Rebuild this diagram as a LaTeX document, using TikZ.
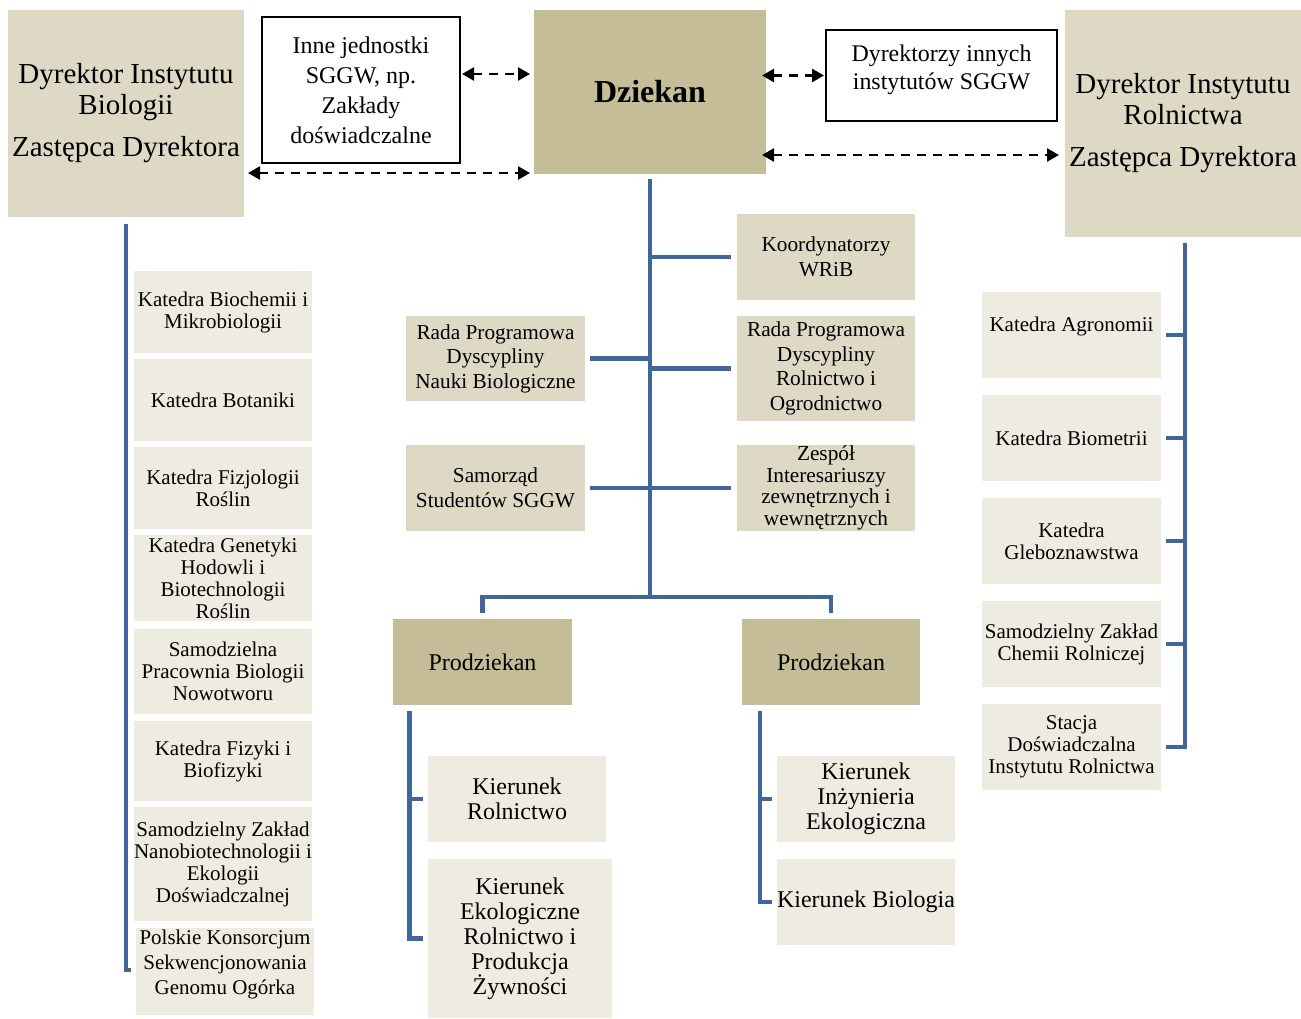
\documentclass[tikz,border=0pt]{standalone}
\usepackage{fontspec}
\setmainfont{Liberation Serif}
\usetikzlibrary{arrows.meta}

\begin{document}
\begin{tikzpicture}[x=1pt,y=-1pt,
  box/.style={inner sep=0pt, outer sep=0pt, align=center, text=black},
  dyrbox/.style={box, fill=tanLight, font=\fontsize{29}{31}\selectfont},
  whitebox/.style={box, draw=black, line width=2pt, fill=white, font=\fontsize{24}{30}\selectfont},
  deanbox/.style={box, fill=tanDark},
  midbox/.style={box, fill=tanLight, minimum width=178, minimum height=86, font=\fontsize{21.3}{24.5}\selectfont},
  unitbox/.style={box, fill=tanPale, minimum width=178, font=\fontsize{21}{22}\selectfont},
  kierbox/.style={box, fill=tanPale, minimum width=178, minimum height=86, font=\fontsize{24}{25}\selectfont},
  tree/.style={draw=lineBlue, line width=4.8pt},
  darr/.style={draw=black, line width=2.5pt, dash pattern=on 9pt off 7pt,
    {Triangle[length=12pt,width=13pt]}-{Triangle[length=12pt,width=13pt]}}
]
\definecolor{tanDark}{RGB}{196,189,151}
\definecolor{tanLight}{RGB}{221,217,196}
\definecolor{tanPale}{RGB}{238,236,225}
\definecolor{lineBlue}{RGB}{64,102,155}

\path[use as bounding box,fill=white] (0,0) rectangle (1301,1019);

% top row
\node[dyrbox, minimum width=236, minimum height=207] (bio) at (126,113.5)
  {Dyrektor Instytutu\\Biologii\\[11pt]Zastępca Dyrektora};
\node[whitebox, minimum width=198, minimum height=146] (inne) at (361,90)
  {Inne jednostki\\SGGW, np.\\Zakłady\\doświadczalne};
\node[deanbox, minimum width=232, minimum height=164, font=\fontsize{32}{34}\selectfont\bfseries] (dziekan) at (650,92) {Dziekan};
\node[whitebox, minimum width=231, minimum height=91, font=\fontsize{23.9}{28}\selectfont] (dyrinne) at (941.5,75.5)
  {Dyrektorzy innych\\instytutów SGGW\\[-20pt]\strut};
\node[dyrbox, minimum width=236, minimum height=227] (rol) at (1183,123.5)
  {Dyrektor Instytutu\\Rolnictwa\\[11pt]Zastępca Dyrektora};

\draw[darr] ([xshift=2pt,yshift=16pt]inne.east) -- ([xshift=-4pt,yshift=16pt]inne.east -| dziekan.west);
\draw[darr] ([xshift=4pt,yshift=1pt]bio.east |- dziekan.south) -- ([xshift=-4pt,yshift=1pt]dziekan.south west);
\draw[darr] ([xshift=-4pt]dyrinne.west -| dziekan.east) -- ([xshift=-2pt]dyrinne.west);
\draw[darr] ([xshift=-4pt,yshift=-63pt]dziekan.east) -- ([xshift=-6pt,yshift=-63pt]dziekan.east -| rol.west);

% middle column
\node[midbox] (koord) at (826,257) {Koordynatorzy\\WRiB};
\node[midbox, minimum height=105] (radaR) at (826,368.5) {Rada Programowa\\Dyscypliny\\Rolnictwo i\\Ogrodnictwo};
\node[midbox, minimum width=179, minimum height=85] (radaL) at (495.5,358.5) {Rada Programowa\\Dyscypliny\\Nauki Biologiczne};
\node[midbox, minimum width=179] (samorzad) at (495.5,488) {Samorząd\\Studentów SGGW};
\node[midbox, font=\fontsize{21.3}{21.7}\selectfont] (zespol) at (826,488) {Zespół\\Interesariuszy\\zewnętrznych i\\wewnętrznych};
\node[deanbox, minimum width=179, minimum height=86, font=\fontsize{24}{27}\selectfont] (prodL) at (482.5,662) {Prodziekan};
\node[deanbox, minimum width=178, minimum height=86, font=\fontsize{24}{27}\selectfont] (prodR) at (831,662) {Prodziekan};

\coordinate (fork) at (650,597);
\draw[tree] ([yshift=-5pt]dziekan.south) -- (fork);
\draw[tree] (fork |- koord.west) -- ([xshift=-6pt]koord.west);
\draw[tree] (fork |- radaR.west) -- ([xshift=-6pt]radaR.west);
\draw[tree] ([xshift=5pt]radaL.east) -- (fork |- radaL.east);
\draw[tree] ([xshift=5pt]samorzad.east) -- ([xshift=-6pt]zespol.west);
\draw[tree] ([yshift=6pt]prodL.north) |- (fork) -| ([yshift=6pt]prodR.north);

% kierunki
\node[kierbox] (krol) at (517,799) {Kierunek\\Rolnictwo};
\node[kierbox, minimum width=184, minimum height=159] (kekol) at (520,938.5) {Kierunek\\Ekologiczne\\Rolnictwo i\\Produkcja\\Żywności};
\node[kierbox] (kinz) at (866,799) {Kierunek\\Inżynieria\\Ekologiczna};
\node[kierbox] (kbio) at (866,902) {Kierunek Biologia};

\coordinate (pl) at ([xshift=16.5pt,yshift=-6pt]prodL.south west);
\coordinate (pr) at ([xshift=18pt,yshift=-6pt]prodR.south west);
\draw[tree] (pl) |- ([xshift=-5pt]kekol.west);
\draw[tree] (pl |- krol.west) -- ([xshift=-5pt]krol.west);
\draw[tree] (pr) |- ([xshift=-5pt]kbio.west);
\draw[tree] (pr |- kinz.west) -- ([xshift=-5pt]kinz.west);

% Instytut Biologii
\node[unitbox, minimum height=82] (biochem) at (223,312) {Katedra Biochemii i\\Mikrobiologii};
\node[unitbox, minimum height=82] (botan) at (223,400) {Katedra Botaniki};
\node[unitbox, minimum height=82] (fizjol) at (223,488) {Katedra Fizjologii\\Roślin};
\node[unitbox, minimum height=86] (genet) at (223,578) {Katedra Genetyki\\Hodowli i\\Biotechnologii\\Roślin};
\node[unitbox, minimum height=85] (pracownia) at (223,671.5) {Samodzielna\\Pracownia Biologii\\Nowotworu};
\node[unitbox, minimum height=80] (fizyka) at (223,761) {Katedra Fizyki i\\Biofizyki};
\node[unitbox, minimum height=114] (nano) at (223,864) {Samodzielny Zakład\\Nanobiotechnologii i\\Ekologii\\Doświadczalnej};
\node[unitbox, minimum height=87, font=\fontsize{21}{25}\selectfont] (konsorcjum) at (225,971.5) {Polskie Konsorcjum\\Sekwencjonowania\\Genomu Ogórka\\[-14pt]\strut};

\draw[tree] ([yshift=-7pt]bio.south) |- ([xshift=-5pt,yshift=1.5pt]konsorcjum.west);

% Instytut Rolnictwa
\node[unitbox, minimum width=179, minimum height=86] (agro) at (1071.5,335) {Katedra Agronomii\\[-8pt]\strut};
\node[unitbox, minimum width=179, minimum height=86] (biom) at (1071.5,438) {Katedra Biometrii};
\node[unitbox, minimum width=179, minimum height=86] (glebo) at (1071.5,541) {Katedra\\Gleboznawstwa};
\node[unitbox, minimum width=179, minimum height=86] (chemia) at (1071.5,644) {Samodzielny Zakład\\Chemii Rolniczej};
\node[unitbox, minimum width=179, minimum height=86] (stacja) at (1071.5,747) {Stacja\\Doświadczalna\\Instytutu Rolnictwa};

\coordinate (rr) at ([xshift=2pt,yshift=-6pt]rol.south);
\draw[tree] (rr) |- ([xshift=5pt]stacja.east);
\draw[tree] (rr |- agro.east) -- ([xshift=5pt]agro.east);
\draw[tree] (rr |- biom.east) -- ([xshift=5pt]biom.east);
\draw[tree] (rr |- glebo.east) -- ([xshift=5pt]glebo.east);
\draw[tree] (rr |- chemia.east) -- ([xshift=5pt]chemia.east);
\end{tikzpicture}
\end{document}
